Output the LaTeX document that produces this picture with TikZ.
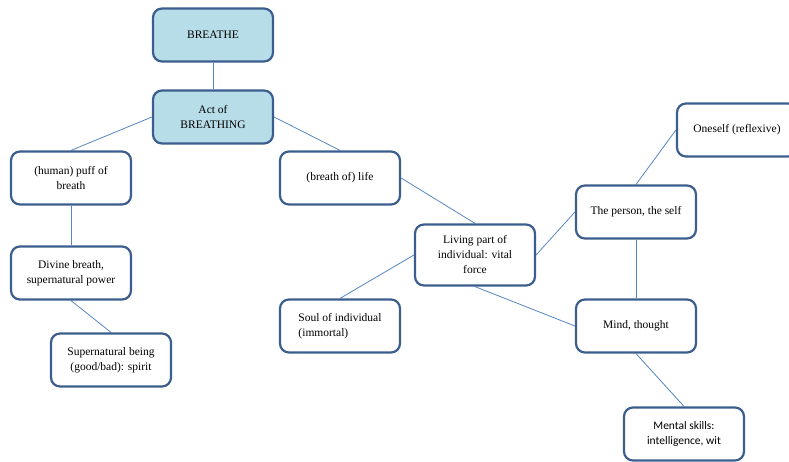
\documentclass[tikz,border=0pt]{standalone}
\usepackage{fontspec}
\setmainfont{Liberation Serif}
\newfontfamily\skillfont{Carlito}
\usetikzlibrary{backgrounds}

\definecolor{boxline}{HTML}{3B5E8E}
\definecolor{boxfill}{HTML}{B7DDE8}
\definecolor{linkline}{HTML}{5585C2}

\tikzset{
  sensebox/.style={draw=boxline,line width=2.2pt,rounded corners=9pt,fill=white,
    minimum width=120pt,minimum height=53pt,align=center,inner sep=2pt,
    font=\rmfamily\fontsize{11.5}{15}\selectfont},
  headbox/.style={sensebox,fill=boxfill},
  link/.style={draw=linkline,line width=0.8pt}
}

\begin{document}
\begin{tikzpicture}[x=1pt,y=-1pt]
    \useasboundingbox (0,0) rectangle (789,462);
    \clip (0,0) rectangle (789,462);

    % head of the entry
    \node[headbox] (breathe) at (213,35) {BREATHE};
    \node[headbox] (act) at (213,117) {Act of\\BREATHING};

    % left branch
    \node[sensebox] (puff) at (71,178) {(human) puff of\\breath};
    \node[sensebox] (divine) at (71,273) {Divine breath,\\supernatural power};
    \node[sensebox] (spirit) at (111,360) {Supernatural being\\(good/bad): spirit};

    % right branch
    \node[sensebox] (life) at (340,178) {(breath of) life};
    \node[sensebox,minimum height=61pt] (living) at (475,255) {Living part of\\individual: vital\\force};
    \node[sensebox,align=left] (soul) at (340,326) {Soul of individual\\(immortal)};
    \node[sensebox] (person) at (636,212) {The person, the self};
    \node[sensebox] (oneself) at (737,130) {Oneself (reflexive)};
    \node[sensebox] (mind) at (636,326) {Mind, thought};
    \node[sensebox,font=\skillfont\fontsize{11.5}{15}\selectfont] (skills) at (684,434) {Mental skills:\\intelligence, wit};

    \begin{scope}[on background layer]
        \draw[link] (breathe.south) -- (act.north);
        \draw[link] (act.west) -- (puff.north);
        \draw[link] (puff.south) -- (divine.north);
        \draw[link] (divine.south) -- (spirit.north);
        \draw[link] (act.east) -- (life.north);
        \draw[link] (life.east) -- (living.north);
        \draw[link] (living.west) -- (soul.north);
        \draw[link] (living.east) -- (person.west);
        \draw[link] (living.south) -- (mind.west);
        \draw[link] (person.north) -- (oneself.west);
        \draw[link] (person.south) -- (mind.north);
        \draw[link] (mind.south) -- (skills.north);
    \end{scope}
\end{tikzpicture}
\end{document}
